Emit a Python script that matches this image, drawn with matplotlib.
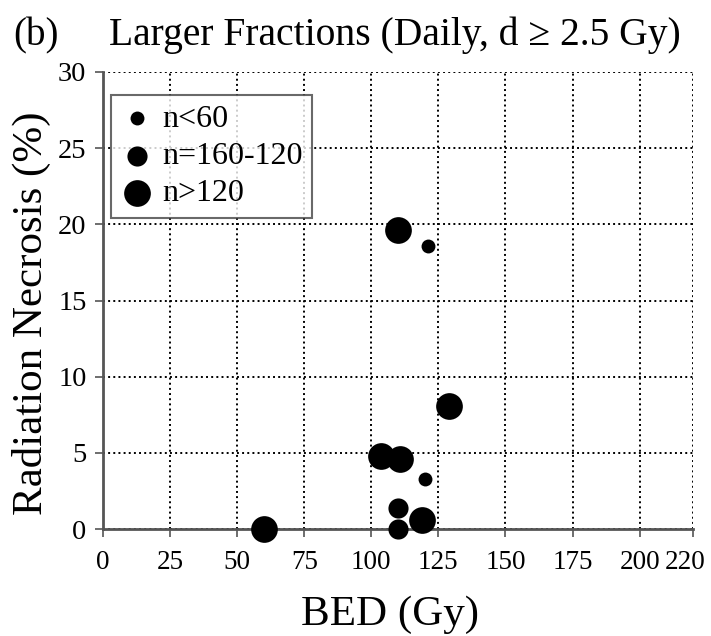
import matplotlib.pyplot as plt
from matplotlib.transforms import ScaledTranslation

plt.rcParams['font.family'] = ['Liberation Serif', 'DejaVu Serif']

# BED (Gy) vs radiation necrosis (%) per study
bed = [60, 103.5, 110.5, 110, 110, 119, 129, 110, 120, 121]
necrosis = [0, 4.8, 4.6, 1.4, 0, 0.6, 8.1, 19.6, 3.3, 18.6]
groupe = [2, 2, 2, 1, 1, 2, 2, 2, 0, 0]

labels = ['n<60', 'n=160-120', 'n>120']
tailles = [100, 210, 370]

xticks = [0, 25, 50, 75, 100, 125, 150, 175, 200, 220]
yticks = [0, 5, 10, 15, 20, 25, 30]

fig = plt.figure(figsize=(7.11, 6.36), dpi=100)
ax = fig.add_axes([0.145, 0.168, 0.83, 0.719])

for g in range(3):
    xs = [b for b, k in zip(bed, groupe) if k == g]
    ys = [n for n, k in zip(necrosis, groupe) if k == g]
    ax.scatter(xs, ys, s=tailles[g], color='black', label=labels[g],
               zorder=3, clip_on=False, linewidths=0)

ax.set_xlim(0, 220)
ax.set_ylim(0, 30)
ax.set_xticks(xticks)
ax.set_yticks(yticks)
ax.grid(True, linestyle=':', color='black', linewidth=1.4)
ax.set_axisbelow(True)

for s in ['top', 'right']:
    ax.spines[s].set_visible(False)
for s in ['left', 'bottom']:
    ax.spines[s].set_color('#555555')
    ax.spines[s].set_linewidth(2)

ax.tick_params(labelsize=20.5, length=6, width=1.2, color='#555555', pad=6)
ax.tick_params(axis='x', labelsize=19.5, pad=9)

# le dernier label (220) est décalé pour rester dans l'image
dernier = ax.get_xticklabels()[-1]
dernier.set_transform(dernier.get_transform() + ScaledTranslation(-0.08, 0, fig.dpi_scale_trans))

ax.set_xlabel('BED (Gy)', fontsize=31, va='baseline')
ax.xaxis.set_label_coords(0.486, -0.21)
ax.set_ylabel('Radiation Necrosis (%)', fontsize=31, va='center')
ax.yaxis.set_label_coords(-0.122, 0.473)

fig.text(0.018, 0.929, '(b)', fontsize=28, va='baseline')
fig.text(0.153, 0.929, 'Larger Fractions (Daily, d \u2265 2.5 Gy)', fontsize=28.5, va='baseline')

leg = ax.legend(loc='upper left', bbox_to_anchor=(0.0136, 0.95), fontsize=23,
                scatterpoints=1, frameon=True, fancybox=False, borderpad=0.3,
                handlelength=1.0, handletextpad=0.3, labelspacing=0.25,
                borderaxespad=0)
leg.get_frame().set_edgecolor('#444444')
leg.get_frame().set_linewidth(1.5)

plt.savefig('out.png', dpi=100)
